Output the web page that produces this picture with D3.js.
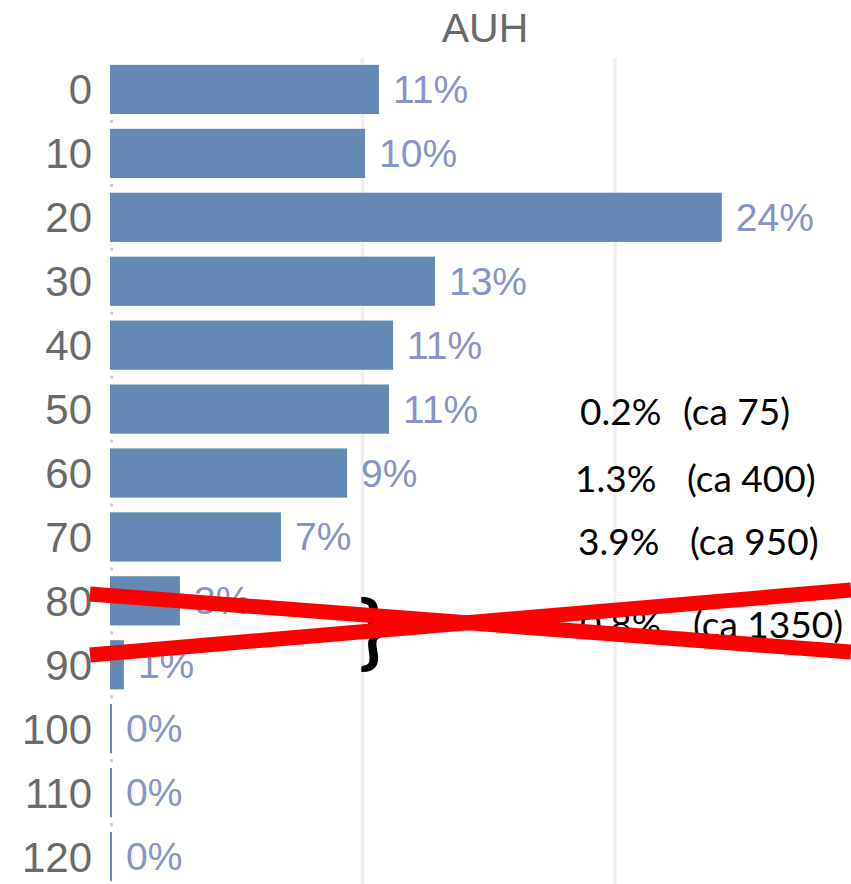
<!DOCTYPE html>
<html>
<head>
<meta charset="utf-8">
<script src="https://cdn.jsdelivr.net/npm/d3@7"></script>
<style>
  html, body { margin: 0; padding: 0; background: #fff; }
  svg { display: block; }
</style>
</head>
<body>
<div class="chart"></div>
<script>
(function() {
    const width = 851
    const height = 884

    // data
    const ageGroups = ["0", "10", "20", "30", "40", "50", "60", "70", "80", "90", "100", "110", "120"]
    const shares = [0.1065, 0.1010, 0.2423, 0.1287, 0.1121, 0.1105, 0.0939, 0.0677, 0.0277, 0.0055, 0.0008, 0.0008, 0.0008]
    const gridTicks = [0.1, 0.2]
    const notePercents = ["0.2%", "1.3%", "3.9%", "0.8%"]
    const noteCounts = ["(ca 75)", "(ca 400)", "(ca 950)", "(ca 1350)"]

    const x = d3.scaleLinear()
        .domain([0, 0.3])
        .range([110, 110 + 3 * 252.5])

    const y = d3.scaleBand()
        .domain(ageGroups)
        .range([57.5, 888.5])
        .paddingInner(0.23)
        .paddingOuter(0.115)

    const svg = d3.select(".chart")
        .append('svg')
        .attr('width', width)
        .attr('height', height)
        .attr('viewBox', `0 0 ${width} ${height}`)

    // title
    svg.append('text')
        .attr('x', 485)
        .attr('y', 42)
        .attr('text-anchor', 'middle')
        .style('font-family', '"Liberation Sans", Arial, sans-serif')
        .style('font-size', '41px')
        .style('fill', '#6a6a6a')
        .text('AUH')

    // vertical gridlines
    svg.append('g')
        .selectAll('line')
        .data(gridTicks)
        .join('line')
        .attr('x1', d => x(d))
        .attr('x2', d => x(d))
        .attr('y1', 58)
        .attr('y2', height)
        .attr('stroke', '#efefef')
        .attr('stroke-width', 3.5)

    // little row divider ticks
    svg.append('g')
        .selectAll('rect')
        .data(ageGroups.slice(1))
        .join('rect')
        .attr('x', x(0))
        .attr('y', d => y(d) - y.step() * y.paddingInner() / 2 - 1.5)
        .attr('width', 3)
        .attr('height', 3)
        .attr('fill', '#cfcfcf')

    // bars
    svg.append('g')
        .selectAll('rect')
        .data(shares)
        .join('rect')
        .attr('x', x(0))
        .attr('y', (d, i) => y(ageGroups[i]))
        .attr('width', d => x(d) - x(0))
        .attr('height', y.bandwidth())
        .attr('fill', '#6389b4')

    // value labels
    svg.append('g')
        .selectAll('text')
        .data(shares)
        .join('text')
        .attr('x', d => x(d) + 14)
        .attr('y', (d, i) => y(ageGroups[i]) + y.bandwidth() / 2 + 13.5)
        .style('font-family', '"Liberation Sans", Arial, sans-serif')
        .style('font-size', '39px')
        .style('fill', '#8893c6')
        .text(d => d3.format('.0%')(d))

    // y axis labels
    const yAxis = d3.axisLeft(y).tickSize(0).tickPadding(0)
    const ga = svg.append('g')
        .attr('transform', 'translate(92,0)')
        .call(yAxis)
    ga.select('.domain').remove()
    ga.selectAll('text')
        .attr('x', 0)
        .attr('dy', null)
        .attr('y', 15)
        .style('font-family', '"Liberation Sans", Arial, sans-serif')
        .style('font-size', '42px')
        .style('fill', '#6a6a6a')

    // annotations
    const noteX1 = [580, 575, 578, 580]
    const noteX2 = [683, 687, 690, 693]
    const noteY = [425, 492, 555, 638]
    const notes = svg.append('g')
        .style('font-family', 'Lato, "Open Sans", sans-serif')
        .style('font-size', '37px')
        .style('fill', '#000')
    notes.selectAll('text.pct')
        .data(notePercents)
        .join('text')
        .attr('class', 'pct')
        .attr('x', (d, i) => noteX1[i])
        .attr('y', (d, i) => noteY[i])
        .text(d => d)
    notes.selectAll('text.cnt')
        .data(noteCounts)
        .join('text')
        .attr('class', 'cnt')
        .attr('x', (d, i) => noteX2[i])
        .attr('y', (d, i) => noteY[i])
        .text(d => d)

    // brace
    svg.append('text')
        .attr('x', 359)
        .attr('y', 660)
        .style('font-family', 'Lato, sans-serif')
        .style('font-size', '80px')
        .style('font-weight', 'bold')
        .style('fill', '#000')
        .text('}')

    // red cross
    svg.append('line')
        .attr('x1', 90).attr('y1', 594)
        .attr('x2', 851).attr('y2', 652)
        .attr('stroke', '#ff0000')
        .attr('stroke-width', 15)
    svg.append('line')
        .attr('x1', 90).attr('y1', 655)
        .attr('x2', 851).attr('y2', 590)
        .attr('stroke', '#ff0000')
        .attr('stroke-width', 15)
}())
</script>
</body>
</html>
